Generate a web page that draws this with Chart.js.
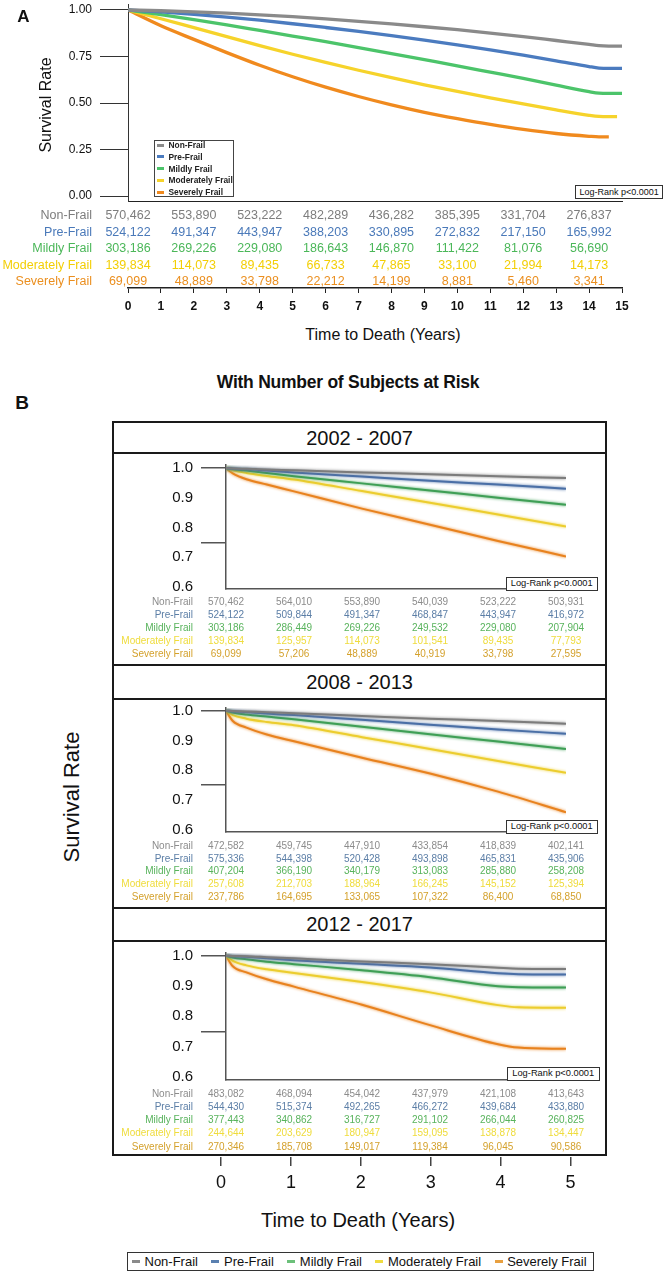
<!DOCTYPE html>
<html><head><meta charset="utf-8">
<script src="https://cdn.jsdelivr.net/npm/chart.js@4.4.1/dist/chart.umd.min.js"></script>
<style>
html,body{margin:0;padding:0;background:#fff;}
body{width:669px;height:1280px;position:relative;overflow:hidden;font-family:"Liberation Sans",Arial,Helvetica,sans-serif;color:#111;}
canvas{position:absolute;left:0;}
.t{position:absolute;white-space:nowrap;line-height:1;}
.bx{position:absolute;box-sizing:border-box;}
</style></head><body>
<script>
// ---------- DATA ----------
const frailtyGroups = ['Non-Frail','Pre-Frail','Mildly Frail','Moderately Frail','Severely Frail'];

// Panel A (whole period, 0-15 years)
const timeA = [0,1,2,3,4,5,6,7,8,9,10,11,12,13,14,14.3,14.6,14.85,15];
const nonFrailA        = [1.000,0.996,0.990,0.983,0.974,0.964,0.952,0.939,0.925,0.910,0.894,0.876,0.857,0.836,0.815,0.808,0.806,0.806,0.806];
const preFrailA        = [1.000,0.990,0.977,0.962,0.945,0.926,0.906,0.885,0.862,0.838,0.813,0.786,0.757,0.727,0.696,0.688,0.686,0.686,0.686];
const mildlyFrailA     = [1.000,0.975,0.948,0.920,0.890,0.860,0.830,0.798,0.766,0.733,0.700,0.666,0.632,0.596,0.561,0.553,0.552,0.552,0.552];
const moderatelyFrailA = [1.000,0.953,0.905,0.857,0.808,0.762,0.718,0.676,0.636,0.598,0.562,0.528,0.495,0.463,0.434,0.428,0.427,0.427,null];
const severelyFrailA   = [1.000,0.915,0.842,0.771,0.703,0.641,0.585,0.535,0.490,0.450,0.416,0.385,0.358,0.336,0.321,0.318,0.318,null,null];
const yTicksA = [0, 0.25, 0.5, 0.75, 1];
const riskTimesA = [0,2,4,6,8,10,12,14];
const riskNonFrailA        = [570462,553890,523222,482289,436282,385395,331704,276837];
const riskPreFrailA        = [524122,491347,443947,388203,330895,272832,217150,165992];
const riskMildlyFrailA     = [303186,269226,229080,186643,146870,111422,81076,56690];
const riskModeratelyFrailA = [139834,114073,89435,66733,47865,33100,21994,14173];
const riskSeverelyFrailA   = [69099,48889,33798,22212,14199,8881,5460,3341];

// Panel B (0-5 years)
const periodTitles = ['2002 - 2007','2008 - 2013','2012 - 2017'];
const yTicksB = [0.6,0.7,0.75,0.8,0.9,1.0];
const riskTimesB = [0,1,2,3,4,5];

const timeB1 = [0,0.1,0.3,0.6,1,2,3,4,5];
const nonFrailB1        = [1,0.999,0.998,0.996,0.993,0.986,0.980,0.973,0.967];
const preFrailB1        = [1,0.999,0.997,0.992,0.986,0.972,0.958,0.945,0.931];
const mildlyFrailB1     = [1,0.997,0.992,0.984,0.973,0.949,0.925,0.901,0.877];
const moderatelyFrailB1 = [1,0.993,0.984,0.974,0.962,0.923,0.884,0.844,0.804];
const severelyFrailB1   = [1,0.983,0.963,0.945,0.922,0.864,0.810,0.755,0.703];
const riskNonFrailB1        = [570462,564010,553890,540039,523222,503931];
const riskPreFrailB1        = [524122,509844,491347,468847,443947,416972];
const riskMildlyFrailB1     = [303186,286449,269226,249532,229080,207904];
const riskModeratelyFrailB1 = [139834,125957,114073,101541,89435,77793];
const riskSeverelyFrailB1   = [69099,57206,48889,40919,33798,27595];

const timeB2 = [0,0.1,0.3,0.6,1,2,3,4,5];
const nonFrailB2        = [1,0.999,0.997,0.995,0.991,0.982,0.973,0.965,0.956];
const preFrailB2        = [1,0.998,0.995,0.990,0.985,0.969,0.953,0.937,0.922];
const mildlyFrailB2     = [1,0.994,0.987,0.980,0.971,0.946,0.921,0.896,0.871];
const moderatelyFrailB2 = [1,0.985,0.973,0.962,0.951,0.911,0.871,0.831,0.791];
const severelyFrailB2   = [1,0.965,0.943,0.920,0.897,0.842,0.789,0.728,0.659];
const riskNonFrailB2        = [472582,459745,447910,433854,418839,402141];
const riskPreFrailB2        = [575336,544398,520428,493898,465831,435906];
const riskMildlyFrailB2     = [407204,366190,340179,313083,285880,258208];
const riskModeratelyFrailB2 = [257608,212703,188964,166245,145152,125394];
const riskSeverelyFrailB2   = [237786,164695,133065,107322,86400,68850];

const timeB3 = [0,0.1,0.3,0.6,1,2,3,4,4.3,5];
const nonFrailB3        = [1,0.999,0.998,0.995,0.991,0.981,0.972,0.960,0.957,0.956];
const preFrailB3        = [1,0.999,0.996,0.991,0.985,0.973,0.961,0.942,0.939,0.938];
const mildlyFrailB3     = [1,0.994,0.988,0.980,0.972,0.952,0.929,0.899,0.896,0.895];
const moderatelyFrailB3 = [1,0.983,0.968,0.955,0.943,0.913,0.879,0.837,0.830,0.828];
const severelyFrailB3   = [1,0.965,0.945,0.922,0.898,0.838,0.771,0.708,0.697,0.693];
const riskNonFrailB3        = [483082,468094,454042,437979,421108,413643];
const riskPreFrailB3        = [544430,515374,492265,466272,439684,433880];
const riskMildlyFrailB3     = [377443,340862,316727,291102,266044,260825];
const riskModeratelyFrailB3 = [244644,203629,180947,159095,138878,134447];
const riskSeverelyFrailB3   = [270346,185708,149017,119384,96045,90586];

// ---------- STYLE ----------
const lineColorsA = ['#8a8a8a','#4b7bbf','#4cc46a','#f6d32b','#f08a1e'];
const riskColorsA = ['#7d7d7d','#4a79b9','#4bb759','#f3cf05','#eb8f1f'];
const lineColorsB = ['#7c7c7c','#4a6fa6','#3f9f56','#eccd2e','#e8821e'];
const riskColorsB = ['#8c8c8c','#5b7ea6','#58b35c','#efdc3c','#d4a12c'];
const legendColorsB = ['#8a8a8a','#5a80b0','#6cc07a','#f0dc40','#e8a040'];

Chart.defaults.font.family = '"Liberation Sans", Arial, sans-serif';
Chart.defaults.color = '#111';

function txt(s,x,y,o){
  o=o||{};
  const d=document.createElement('div'); d.className='t'; d.textContent=s;
  d.style.fontSize=(o.size||12)+'px';
  if(o.weight) d.style.fontWeight=o.weight;
  d.style.color=o.color||'#111';
  if(o.ls!==undefined) d.style.letterSpacing=o.ls+'px';
  d.style.top=y+'px';
  if(o.align==='r'){ d.style.right=(669-x)+'px'; d.style.transform='translateY(-50%)'; }
  else if(o.align==='l'){ d.style.left=x+'px'; d.style.transform='translateY(-50%)'; }
  else { d.style.left=x+'px'; d.style.transform='translate(-50%,-50%)'+(o.rot?' rotate('+o.rot+'deg)':''); }
  document.body.appendChild(d); return d;
}
function box(x,y,w,h,css){
  const d=document.createElement('div'); d.className='bx';
  d.style.left=x+'px'; d.style.top=y+'px'; d.style.width=w+'px'; d.style.height=h+'px';
  d.style.cssText+=css||''; document.body.appendChild(d); return d;
}
function makeCanvas(top,h){
  const c=document.createElement('canvas'); c.width=669; c.height=h;
  c.style.top=top+'px'; c.style.width='669px'; c.style.height=h+'px';
  document.body.appendChild(c); return c.getContext('2d');
}
function pts(t,v){ const r=[]; for(let i=0;i<t.length;i++){ if(v[i]!==null) r.push({x:t[i],y:v[i]}); } return r; }
const fmt = n => n.toLocaleString('en-US');

const glow = {id:'glow',
  beforeDatasetDraw(chart,args){ const ctx=chart.ctx; ctx.save(); ctx.shadowColor=chart.data.datasets[args.index].borderColor; ctx.shadowBlur=3; },
  afterDatasetDraw(chart){ chart.ctx.restore(); }
};

// ---------- PANEL A ----------
const A = {left:128, right:622, axisTop:4, axisBottom:201, y1:10, y0:196};
const kA = (A.y0-A.y1)/1.0;
const canvasTopA = -20;
const ctxA = makeCanvas(canvasTopA, 20 + (A.axisBottom-A.axisTop) + 4 + 87 + 30 + 3);
const seriesA = [nonFrailA, preFrailA, mildlyFrailA, moderatelyFrailA, severelyFrailA];
const chartA = new Chart(ctxA, {
  type:'line',
  data:{datasets: seriesA.map((v,i)=>({label:frailtyGroups[i], data:pts(timeA,v), borderColor:lineColorsA[i], borderWidth:3.3, pointRadius:0, cubicInterpolationMode:'monotone', fill:false}))},
  options:{
    responsive:false, animation:false, events:[],
    layout:{padding:{top:A.axisTop-canvasTopA, left:0, right:669-A.right, bottom:3}},
    plugins:{legend:{display:false}, tooltip:{enabled:false}},
    scales:{
      x:{type:'linear', min:0, max:15, weight:0, ticks:{display:false}, grid:{display:false}, border:{display:true,color:'#222',width:1},
         afterFit:s=>{s.height=87;}},
      x2:{type:'linear', position:'bottom', min:0, max:15, weight:1,
         ticks:{stepSize:1, autoSkip:false, font:{size:12, weight:'bold'}, color:'#111', padding:6, maxRotation:0},
         grid:{drawOnChartArea:false, drawTicks:true, tickLength:5, color:'#222'}, border:{display:true,color:'#222',width:1.5},
         afterFit:s=>{s.height=30;}},
      y:{type:'linear', min:-(A.axisBottom-A.y0)/kA, max:1+(A.y1-A.axisTop)/kA,
         afterBuildTicks:s=>{s.ticks=yTicksA.map(v=>({value:v}));},
         afterFit:s=>{s.width=A.left;},
         ticks:{callback:v=>Number(v).toFixed(2), font:{size:12}, color:'#111', padding:8},
         grid:{drawOnChartArea:false, drawTicks:true, tickLength:28, color:'#333'}, border:{color:'#333',width:1}}
    }
  }
});
txt('A',23.5,16,{size:17,weight:'bold'});
txt('Survival Rate',45.6,105,{size:16,rot:-90});
txt('Time to Death (Years)',383,335,{size:16});
// legend A
box(154.4,140,79.4,56.7,'border:1px solid #444;background:#fff;');
frailtyGroups.forEach((g,i)=>{
  const y=145+i*11.75;
  box(156.6,y-1.5,7.2,3,'background:'+lineColorsA[i]+';');
  txt(g,168.5,y,{size:8.4,weight:'bold',color:'#222',align:'l'});
});
box(575,185,88.4,13.5,'border:1px solid #333;background:#fff;');
txt('Log-Rank p<0.0001',619.2,191.8,{size:9,color:'#111'});
// risk table A
const riskA=[riskNonFrailA,riskPreFrailA,riskMildlyFrailA,riskModeratelyFrailA,riskSeverelyFrailA];
const rowsA=[215,231.7,248.3,265,281];
riskA.forEach((row,i)=>{
  txt(frailtyGroups[i],92,rowsA[i],{size:12.5,color:riskColorsA[i],align:'r'});
  row.forEach((n,j)=>{ txt(fmt(n), chartA.scales.x.getPixelForValue(riskTimesA[j]), rowsA[i], {size:12.5,color:riskColorsA[i]}); });
});

// ---------- PANEL B ----------
txt('B',22,402,{size:19,weight:'bold'});
txt('With Number of Subjects at Risk',348,383,{size:17.5,weight:'bold',ls:-0.25});
txt('Survival Rate',71.7,797,{size:22,rot:-90});
box(112,421,495,735,'border:2px solid #1a1a1a;');
[452.5,665,699,908,940.5].forEach(y=>box(112,y-1,495,2,'background:#1a1a1a;'));
txt(periodTitles[0],359.6,438,{size:20});
txt(periodTitles[1],359.6,682,{size:20});
txt(periodTitles[2],359.6,924,{size:20});

const B = {left:226, right:566};
function makeB(cfg){
  const k=(cfg.y06-cfg.y1)/0.4;
  const areaH=cfg.axisBottom-cfg.axisTop;
  const ctop=cfg.axisTop-20;
  const ctx=makeCanvas(ctop, 20+areaH+14);
  const chart=new Chart(ctx,{
    type:'line',
    data:{datasets: cfg.series.map((v,i)=>({label:frailtyGroups[i], data:pts(cfg.time,v), borderColor:lineColorsB[i], borderWidth:2, pointRadius:0, cubicInterpolationMode:'monotone', fill:false}))},
    options:{
      responsive:false, animation:false, events:[],
      layout:{padding:{top:20,left:0,right:669-B.right,bottom:14}},
      plugins:{legend:{display:false}, tooltip:{enabled:false}},
      scales:{
        x:{type:'linear',min:0,max:5,ticks:{display:false},grid:{display:false},border:{display:true,color:'#555',width:1.5},afterFit:s=>{s.height=0;}},
        y:{type:'linear',min:0.6-(cfg.axisBottom-cfg.y06)/k,max:1+(cfg.y1-cfg.axisTop)/k,
           afterBuildTicks:s=>{s.ticks=yTicksB.map(v=>({value:v}));},
           afterFit:s=>{s.width=B.left;},
           ticks:{callback:v=>(Math.abs(v-0.75)<1e-6?'':Number(v).toFixed(1)), font:{size:15}, color:'#111', padding:8, autoSkip:false},
           grid:{drawOnChartArea:false, drawTicks:true, tickLength:25,
                 color:c=>(c.tick && (Math.abs(c.tick.value-1)<1e-6 || Math.abs(c.tick.value-0.75)<1e-6)) ? '#555' : 'rgba(0,0,0,0)', lineWidth:1.5},
           border:{color:'#555',width:1.5}}
      }
    },
    plugins:[glow]
  });
  box(cfg.lr[0],cfg.lr[1],cfg.lr[2],cfg.lr[3],'border:1px solid #333;background:#fff;');
  txt('Log-Rank p<0.0001',cfg.lr[0]+cfg.lr[2]/2,cfg.lr[1]+cfg.lr[3]/2+0.3,{size:9.3,color:'#111'});
  cfg.risk.forEach((row,i)=>{
    txt(frailtyGroups[i],193,cfg.rows[i],{size:10,color:riskColorsB[i],align:'r'});
    row.forEach((n,j)=>{ txt(fmt(n), chart.scales.x.getPixelForValue(riskTimesB[j]), cfg.rows[i], {size:10,color:riskColorsB[i]}); });
  });
  return chart;
}
makeB({y1:468.3,y06:590,axisTop:465,axisBottom:592,time:timeB1,
  series:[nonFrailB1,preFrailB1,mildlyFrailB1,moderatelyFrailB1,severelyFrailB1],
  risk:[riskNonFrailB1,riskPreFrailB1,riskMildlyFrailB1,riskModeratelyFrailB1,riskSeverelyFrailB1],
  rows:[602.3,615.3,627.7,640.7,653.7], lr:[506,577,91.5,13.5]});
makeB({y1:710.7,y06:832.7,axisTop:708,axisBottom:835,time:timeB2,
  series:[nonFrailB2,preFrailB2,mildlyFrailB2,moderatelyFrailB2,severelyFrailB2],
  risk:[riskNonFrailB2,riskPreFrailB2,riskMildlyFrailB2,riskModeratelyFrailB2,riskSeverelyFrailB2],
  rows:[845.7,858.7,871.3,884,896.7], lr:[506,820,91.5,13.5]});
makeB({y1:955.7,y06:1080,axisTop:953,axisBottom:1083,time:timeB3,
  series:[nonFrailB3,preFrailB3,mildlyFrailB3,moderatelyFrailB3,severelyFrailB3],
  risk:[riskNonFrailB3,riskPreFrailB3,riskMildlyFrailB3,riskModeratelyFrailB3,riskSeverelyFrailB3],
  rows:[1093.7,1106.7,1120,1133.3,1146.7], lr:[506.5,1067,93.5,14]});

// bottom time axis of panel B
const ctxAx = makeCanvas(1151, 51);
new Chart(ctxAx,{
  type:'line', data:{datasets:[]},
  options:{responsive:false, animation:false, events:[],
    layout:{padding:{top:5,left:221,right:669-570.5,bottom:0}},
    plugins:{legend:{display:false},tooltip:{enabled:false}},
    scales:{
      x:{type:'linear',min:0,max:5,ticks:{stepSize:1,font:{size:18},color:'#111',padding:6,autoSkip:false,maxRotation:0},
         grid:{drawOnChartArea:false,drawTicks:true,tickLength:9,color:'#444',lineWidth:1.5},border:{display:false},
         afterFit:s=>{s.height=45;}},
      y:{display:false,min:0,max:1}
    }}
});
txt('Time to Death (Years)',358,1220,{size:20});

// bottom legend
const lg=document.createElement('div');
lg.style.cssText='position:absolute;left:127px;top:1252px;height:19px;box-sizing:border-box;border:1px solid #333;display:flex;align-items:center;padding:0 6px 0 4px;font-size:13px;line-height:1;white-space:nowrap;';
frailtyGroups.forEach((g,i)=>{
  const it=document.createElement('span'); it.style.cssText='display:flex;align-items:center;'+(i<4?'margin-right:13.5px;':'');
  const ln=document.createElement('span'); ln.style.cssText='display:inline-block;width:8px;height:3px;margin-right:4.5px;background:'+legendColorsB[i]+';';
  const tx=document.createElement('span'); tx.textContent=g; tx.style.color='#111';
  it.appendChild(ln); it.appendChild(tx); lg.appendChild(it);
});
document.body.appendChild(lg);
</script>
</body></html>
